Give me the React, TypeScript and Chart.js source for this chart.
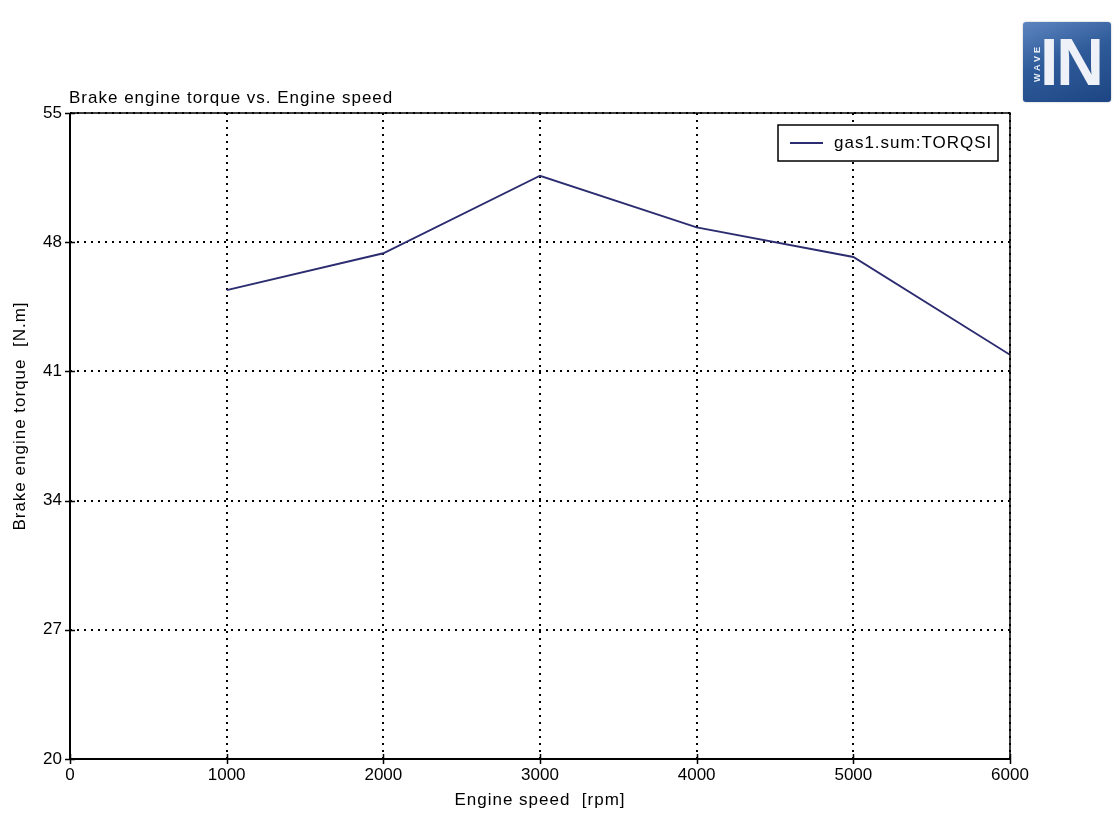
import React, { useEffect, useRef } from "react";
import { Chart, registerables } from "chart.js";

Chart.register(...registerables);

const chartTitle = "Brake engine torque vs. Engine speed";
const xAxisTitle = "Engine speed  [rpm]";
const yAxisTitle = "Brake engine torque  [N.m]";
const seriesLabel = "gas1.sum:TORQSI";

const engineSpeed = [1000, 2000, 3000, 4000, 5000, 6000];
const brakeTorque = [45.4, 47.4, 51.6, 48.8, 47.2, 41.9];

const xTickValues = [0, 1000, 2000, 3000, 4000, 5000, 6000];
const yTickValues = [20, 27, 34, 41, 48, 55];

const FONT = "'Liberation Sans', Arial, Helvetica, sans-serif";
const LINE_COLOR = "#2c2c70";

const framePlugin = {
  id: "framePlugin",
  afterDraw(chart: any) {
    const { ctx, chartArea } = chart;
    const { left, top, right, bottom } = chartArea;
    ctx.save();
    ctx.setLineDash([]);
    ctx.strokeStyle = "#000";
    ctx.lineWidth = 1.5;
    ctx.beginPath();
    ctx.moveTo(left, top);
    ctx.lineTo(right, top);
    ctx.lineTo(right, bottom);
    ctx.stroke();
    ctx.lineWidth = 2;
    ctx.beginPath();
    ctx.moveTo(left, top);
    ctx.lineTo(left, bottom);
    ctx.lineTo(right, bottom);
    ctx.stroke();
    ctx.lineWidth = 1.5;
    const ys = chart.scales.y;
    const xs = chart.scales.x;
    ctx.beginPath();
    ys.ticks.forEach((t: any) => {
      const py = Math.round(ys.getPixelForValue(t.value)) + 0.5;
      ctx.moveTo(left - 5, py);
      ctx.lineTo(left + 5, py);
    });
    xs.ticks.forEach((t: any) => {
      const px = Math.round(xs.getPixelForValue(t.value)) + 0.5;
      ctx.moveTo(px, bottom - 5);
      ctx.lineTo(px, bottom + 5);
    });
    ctx.stroke();

    ctx.fillStyle = "#000";
    (ctx as any).letterSpacing = "1px";
    ctx.font = `17px ${FONT}`;
    ctx.textBaseline = "alphabetic";
    ctx.textAlign = "left";
    ctx.fillText(chartTitle, left - 1, 103);

    ctx.textAlign = "center";
    ctx.fillText(xAxisTitle, (left + right) / 2, 805);

    ctx.save();
    ctx.translate(20, 416);
    ctx.rotate(-Math.PI / 2);
    ctx.textBaseline = "middle";
    ctx.fillText(yAxisTitle, 0, 0);
    ctx.restore();

    const ds = chart.data.datasets[0];
    const bx = 778, by = 125, bw = 220, bh = 36;
    ctx.fillStyle = "#fff";
    ctx.fillRect(bx, by, bw, bh);
    ctx.strokeStyle = "#000";
    ctx.lineWidth = 1.5;
    ctx.strokeRect(bx, by, bw, bh);
    ctx.strokeStyle = ds.borderColor;
    ctx.lineWidth = 1.8;
    ctx.beginPath();
    ctx.moveTo(790, 143);
    ctx.lineTo(823, 143);
    ctx.stroke();
    ctx.fillStyle = "#000";
    ctx.textAlign = "left";
    ctx.textBaseline = "middle";
    ctx.fillText(ds.label, 834, 143);
    (ctx as any).letterSpacing = "0px";
    ctx.restore();
  },
};

export default function App() {
  const canvasRef = useRef<HTMLCanvasElement | null>(null);

  useEffect(() => {
    if (!canvasRef.current) return;
    const chart = new Chart(canvasRef.current, {
      type: "line",
      data: {
        datasets: [
          {
            label: seriesLabel,
            data: engineSpeed.map((x, i) => ({ x, y: brakeTorque[i] })),
            borderColor: LINE_COLOR,
            backgroundColor: LINE_COLOR,
            borderWidth: 1.9,
            pointRadius: 0,
            tension: 0,
            fill: false,
          },
        ],
      },
      options: {
        animation: false,
        responsive: false,
        layout: { padding: { left: 0, top: 113, right: 110, bottom: 0 } },
        plugins: {
          legend: { display: false },
          title: { display: false },
          tooltip: { enabled: false },
        },
        scales: {
          x: {
            type: "linear",
            min: 0,
            max: 6000,
            afterFit: (s: any) => {
              s.height = 65;
            },
            afterBuildTicks: (s: any) => {
              s.ticks = xTickValues.map((v) => ({ value: v }));
            },
            ticks: {
              font: { family: FONT, size: 17 },
              color: "#000",
              padding: 6,
              maxRotation: 0,
              autoSkip: false,
              callback: (v: any) => String(v),
            },
            grid: {
              drawTicks: false,
              color: "#000",
              lineWidth: 2,
            },
            border: { display: false, dash: [2, 5] },
          },
          y: {
            type: "linear",
            min: 20,
            max: 55,
            afterFit: (s: any) => {
              s.width = 70;
            },
            afterBuildTicks: (s: any) => {
              s.ticks = yTickValues.map((v) => ({ value: v }));
            },
            ticks: {
              font: { family: FONT, size: 17 },
              color: "#000",
              padding: 8,
              autoSkip: false,
              callback: (v: any) => String(v),
            },
            grid: {
              drawTicks: false,
              color: "#000",
              lineWidth: 2,
            },
            border: { display: false, dash: [2, 5] },
          },
        },
      },
      plugins: [framePlugin],
    });
    return () => chart.destroy();
  }, []);

  return (
    <div
      style={{
        position: "fixed",
        left: 0,
        top: 0,
        width: 1120,
        height: 824,
        background: "#fff",
        overflow: "hidden",
      }}
    >
      <canvas ref={canvasRef} width={1120} height={824} style={{ display: "block" }} />
      <div
        style={{
          position: "absolute",
          left: 1023,
          top: 22,
          width: 88,
          height: 80,
          borderRadius: 3,
          background: "linear-gradient(160deg, #5d86c0 0%, #2f5b9a 45%, #1d4583 100%)",
          boxShadow: "0 0 2px rgba(0,0,0,0.3)",
          overflow: "hidden",
        }}
      >
        <div
          style={{
            position: "absolute",
            left: -6,
            top: 36,
            width: 40,
            transform: "rotate(-90deg)",
            color: "#e8eef7",
            fontFamily: FONT,
            fontWeight: "bold",
            fontSize: 9,
            letterSpacing: 3,
            textAlign: "center",
          }}
        >
          WAVE
        </div>
        <div
          style={{
            position: "absolute",
            left: 17,
            top: 2,
            color: "#eef2f8",
            fontFamily: FONT,
            fontWeight: "bold",
            fontSize: 66,
            lineHeight: "76px",
            letterSpacing: -2,
          }}
        >
          IN
        </div>
      </div>
    </div>
  );
}
